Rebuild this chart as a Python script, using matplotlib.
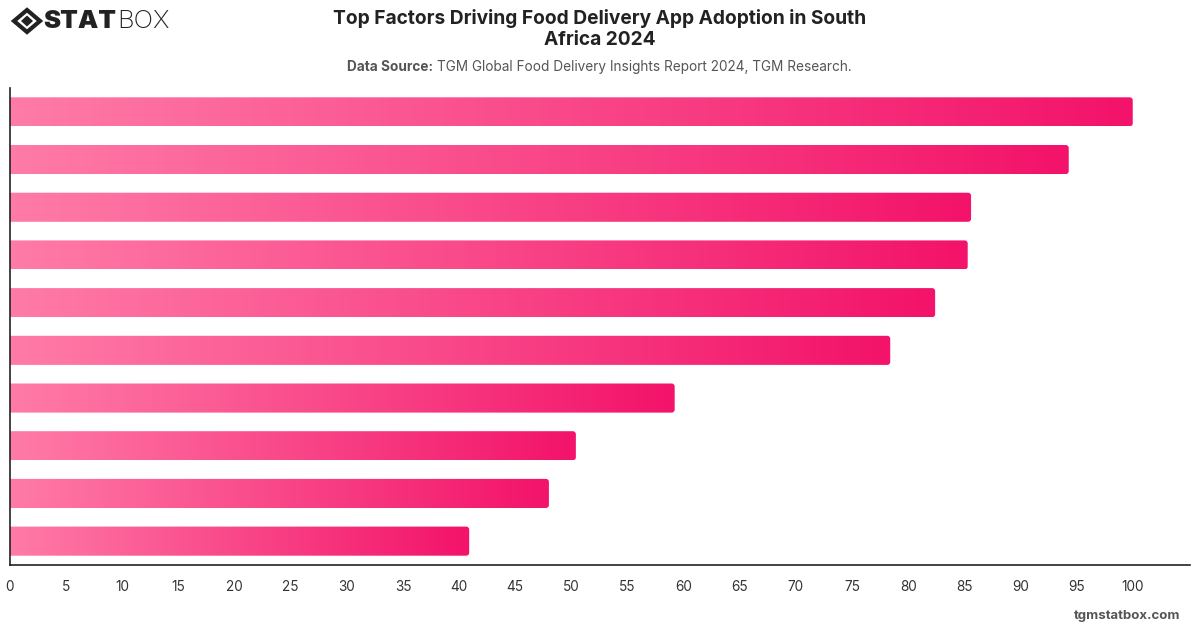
import numpy as np
import matplotlib
matplotlib.use("Agg")
import matplotlib.pyplot as plt
from matplotlib.patches import FancyBboxPatch, Polygon
from matplotlib.colors import LinearSegmentedColormap

# values, top to bottom
values = [100, 94.3, 85.6, 85.3, 82.4, 78.4, 59.2, 50.4, 48.0, 40.9]
ticks = list(range(0, 101, 5))

plt.rcParams['font.family'] = ['Inter', 'DejaVu Sans']

W, H = 1200, 628
fig = plt.figure(figsize=(W / 100, H / 100), dpi=100)
ax = fig.add_axes([10 / W, (H - 565) / H, 1180 / W, (565 - 88) / H])

xmax = 105.1
n = len(values)
ax.set_xlim(0, xmax)
ax.set_ylim(n - 0.5, -0.5)

# gradient light pink -> hot pink, per bar
cmap = LinearSegmentedColormap.from_list('pink', ['#FF7BA7', '#F3136A'])
grad = np.linspace(0, 1, 256).reshape(1, -1)

bar_h = 0.61
px_x = 1180 / xmax          # pixels per x unit
px_y = (565 - 88) / n        # pixels per y unit
r = 3 / px_x
for i, v in enumerate(values):
    y0 = i - bar_h / 2
    im = ax.imshow(grad, cmap=cmap, aspect='auto', extent=[0, v, y0 + bar_h, y0],
                   interpolation='bilinear', zorder=2)
    box = FancyBboxPatch((-1, y0), v + 1, bar_h,
                         boxstyle=f"round,pad=0,rounding_size={r}",
                         mutation_aspect=(px_x / px_y),
                         transform=ax.transData, facecolor='none', edgecolor='none')
    ax.add_patch(box)
    im.set_clip_path(box)

ax.set_xticks(ticks)
ax.set_xticklabels([str(t) for t in ticks])
ax.set_yticks([])
ax.tick_params(axis='x', length=0, pad=11, labelsize=9.8, labelcolor='#333333')
for s in ['top', 'right']:
    ax.spines[s].set_visible(False)
for s in ['left', 'bottom']:
    ax.spines[s].set_color('#222222')
    ax.spines[s].set_linewidth(1.2)

# title and source
fig.text(600 / W, 1 - 29 / H, 'Top Factors Driving Food Delivery App Adoption in South\nAfrica 2024',
         ha='center', va='center', fontsize=13.8, fontweight='bold', color='#222222',
         linespacing=1.2)
t1 = fig.text(347 / W, 1 - 67 / H, 'Data Source:', ha='left', va='center',
              fontsize=9.8, fontweight='bold', color='#555555')
fig.canvas.draw()
bb = t1.get_window_extent()
fig.text((bb.x1 + 4) / W, 1 - 67 / H, 'TGM Global Food Delivery Insights Report 2024, TGM Research.',
         ha='left', va='center', fontsize=9.8, color='#555555')

# logo
cx, cy = 27, 21
outer = [(cx - 13, cy), (cx, cy - 11), (cx + 13, cy), (cx, cy + 11)]
inner = [(cx - 6, cy), (cx, cy - 5.5), (cx + 6, cy), (cx, cy + 5.5)]
tr = lambda pts: [(x / W, 1 - y / H) for x, y in pts]
fig.patches.append(Polygon(tr(outer), closed=True, fill=False, edgecolor='#222222',
                           linewidth=3, transform=fig.transFigure))
fig.patches.append(Polygon(tr(inner), closed=True, facecolor='#222222',
                           edgecolor='none', transform=fig.transFigure))
t2 = fig.text(43 / W, 1 - 21 / H, 'STAT', ha='left', va='center', fontsize=18.5,
              fontweight='black', color='#222222')
fig.canvas.draw()
bb2 = t2.get_window_extent()
fig.text((bb2.x1 + 1) / W, 1 - 21 / H, 'BOX', ha='left', va='center', fontsize=18.5,
         fontweight='light', color='#222222')

fig.text(1180 / W, 1 - 616 / H, 'tgmstatbox.com', ha='right', va='center',
         fontsize=9.5, fontweight='bold', color='#555555')

fig.savefig('out.png', dpi=100)
